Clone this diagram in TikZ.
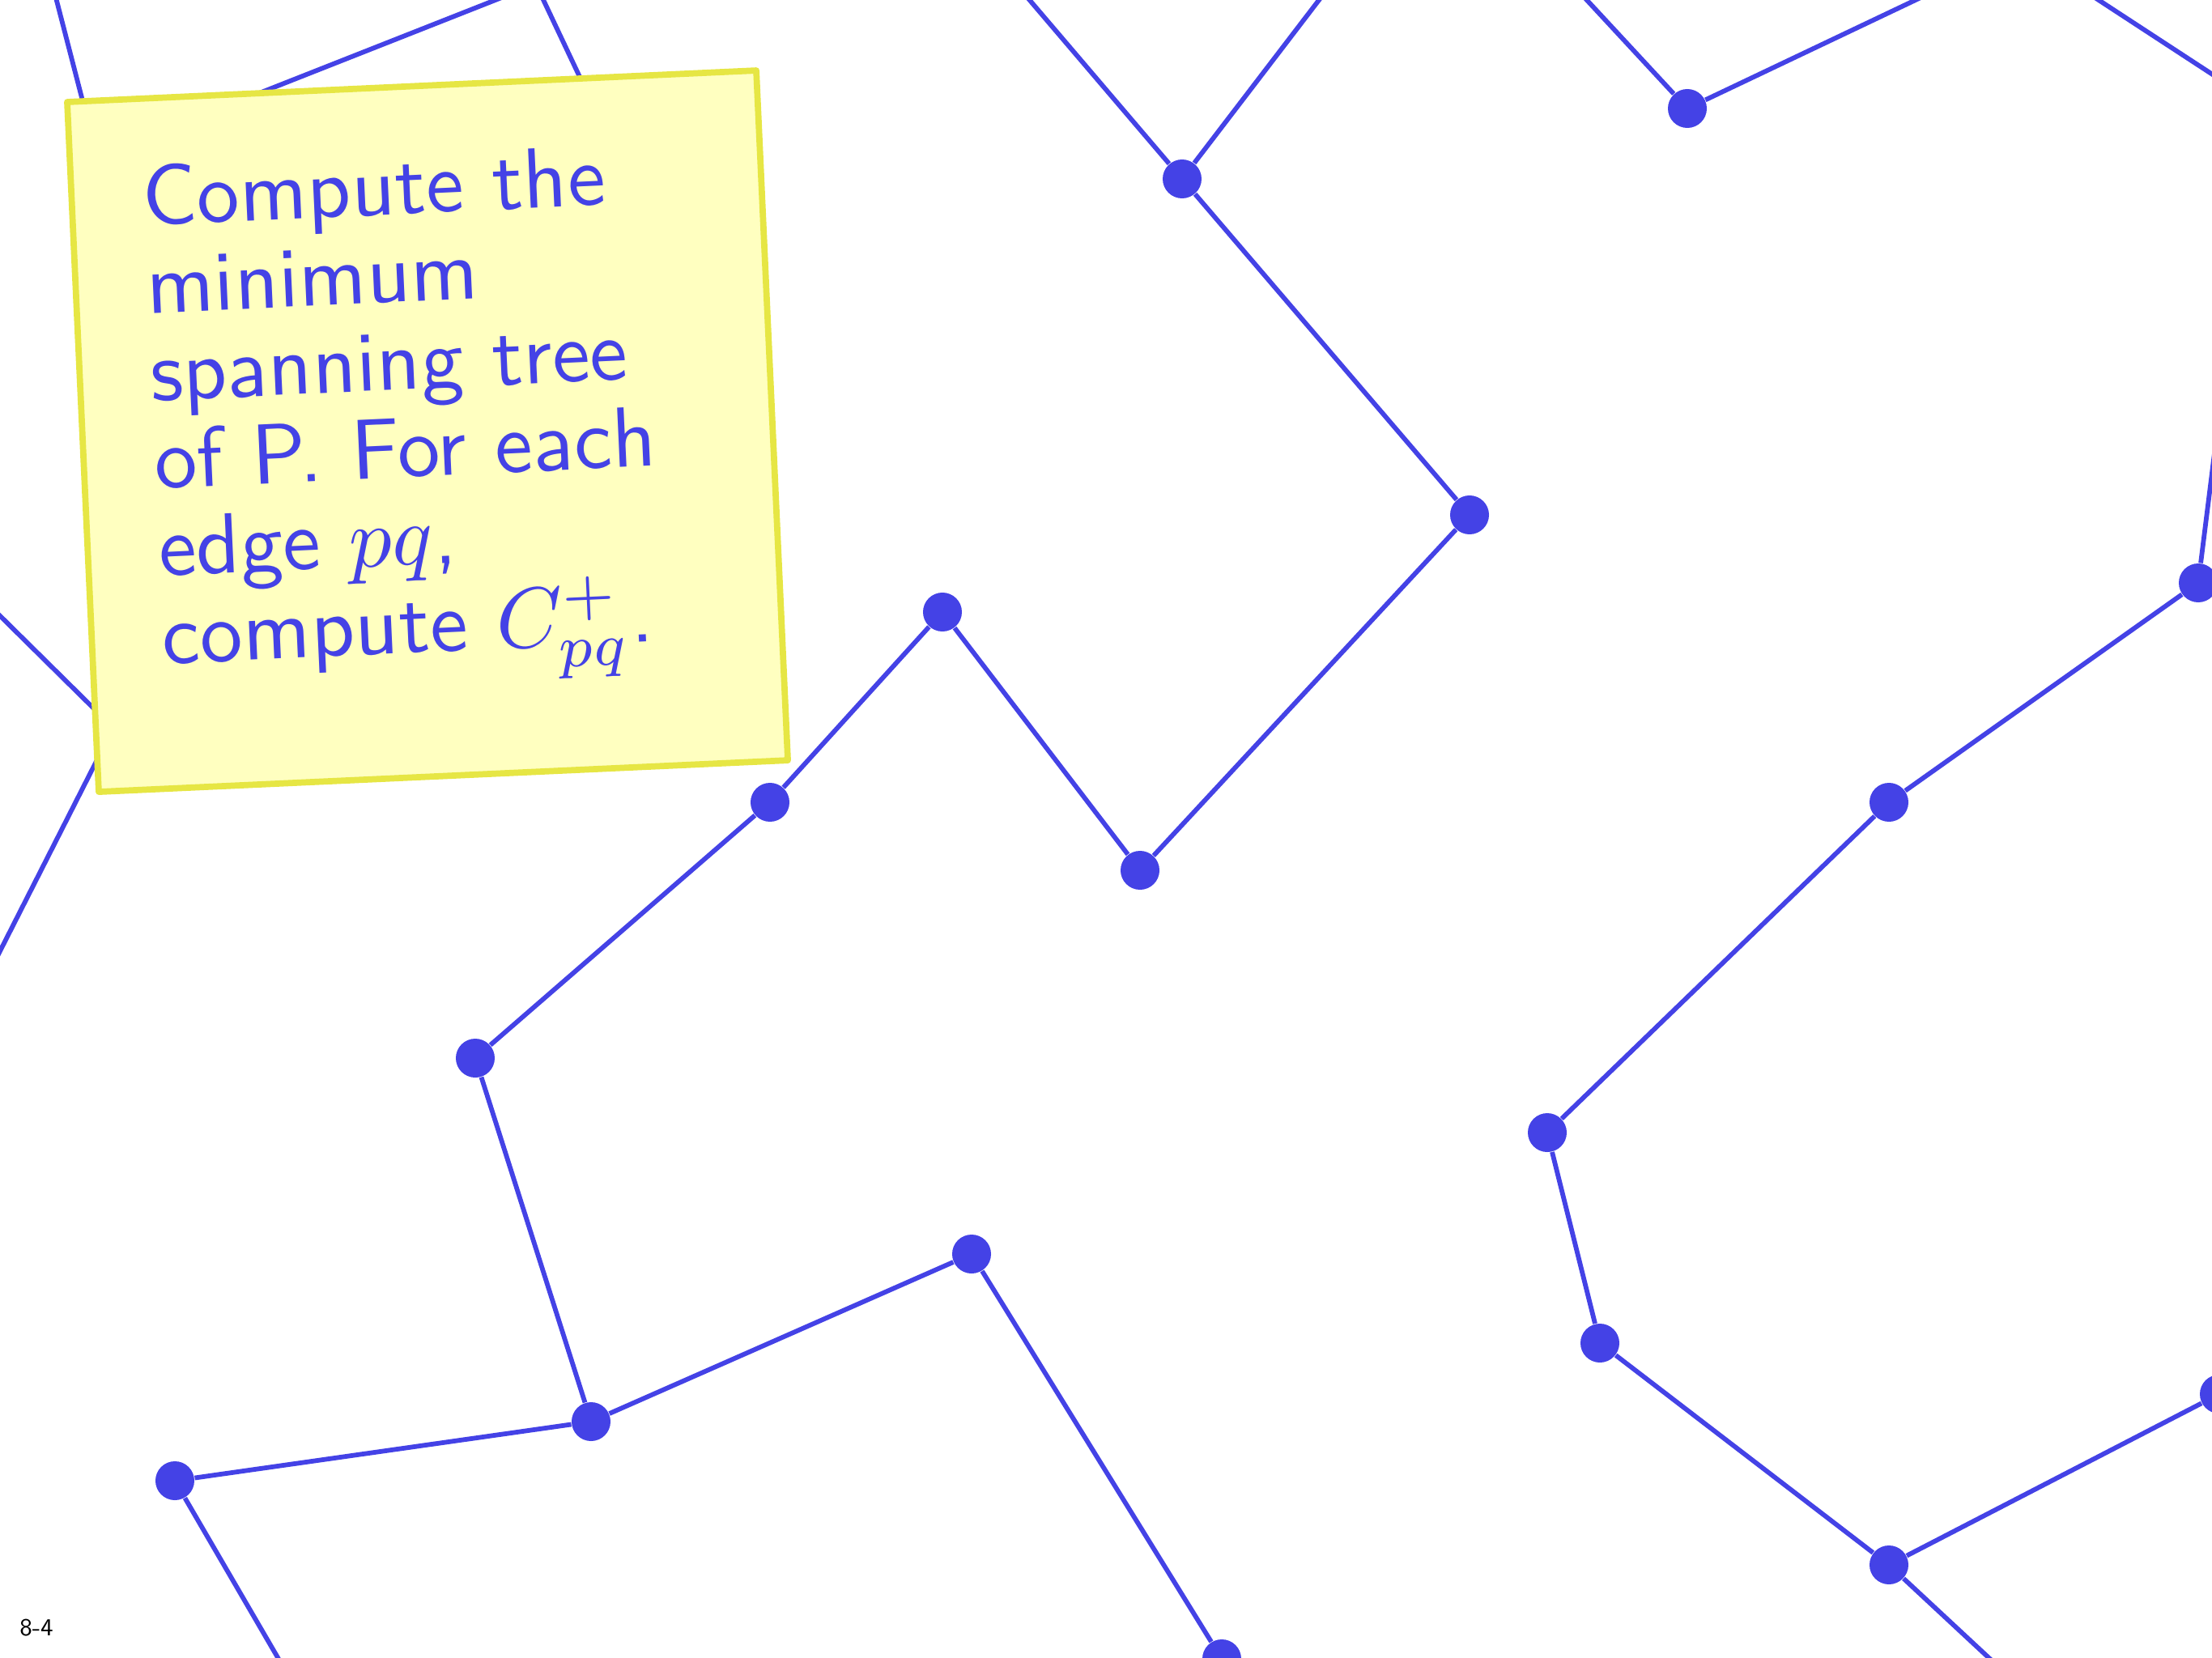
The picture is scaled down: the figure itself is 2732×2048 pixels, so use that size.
\documentclass[tikz,border=0pt]{standalone}
\definecolor{dotblue}{RGB}{68,66,230}
\definecolor{notefill}{RGB}{255,255,192}
\definecolor{noteedge}{RGB}{230,230,68}
\begin{document}
\begin{tikzpicture}[x=0.01cm,y=-0.01cm,
  edge/.style={draw=dotblue,line width=1.65pt},
  dot/.style={circle,fill=dotblue,inner sep=0pt,minimum size=0.48cm},
  notebox/.style={draw=noteedge,fill=notefill,line width=2.2pt,line join=round},
  notetext/.style={text=dotblue,font=\fontsize{10}{12}\selectfont\sffamily,anchor=base west,inner sep=0pt,scale=3}]
\useasboundingbox (0,0) rectangle (2732,2048);
\clip (0,0) rectangle (2732,2048);
% points
\node[dot] (n1) at (1460,221) {};
\node[dot] (n2) at (2084,134) {};
\node[dot] (n3) at (1815,636) {};
\node[dot] (n4) at (1164,756) {};
\node[dot] (n5) at (1408,1075) {};
\node[dot] (n6) at (951,991) {};
\node[dot] (n7) at (587,1307) {};
\node[dot] (n8) at (730,1756) {};
\node[dot] (n9) at (1200,1549) {};
\node[dot] (n10) at (216,1829) {};
\node[dot] (n11) at (1509,2049) {};
\node[dot] (n12) at (2715,720) {};
\node[dot] (n13) at (2333,991) {};
\node[dot] (n14) at (1911,1399) {};
\node[dot] (n15) at (1976,1659) {};
\node[dot] (n16) at (2333,1933) {};
\node[dot] (n17) at (2741,1722) {};
% free ends
\coordinate (e1) at (1246,-30);
\coordinate (e2) at (1652,-30);
\coordinate (e3) at (1932,-30);
\coordinate (e4) at (2429,-30);
\coordinate (e5a) at (2546,-30);
\coordinate (e5b) at (2800,136);
\coordinate (e6) at (2745,480);
\coordinate (e7) at (2491,2080);
\coordinate (e8) at (362,2080);
\coordinate (h1) at (120,194);
\coordinate (h2) at (140,899);
\coordinate (h3) at (860,400);
\coordinate (e9) at (62,-30);
\coordinate (e10) at (688,-30);
\coordinate (e11) at (657,-30);
\coordinate (e12) at (-30,731);
\coordinate (e13) at (-30,1234);
% edges
\draw[edge] (n1) -- (e1);
\draw[edge] (n1) -- (e2);
\draw[edge] (n1) -- (n3);
\draw[edge] (n3) -- (n5);
\draw[edge] (n5) -- (n4);
\draw[edge] (n4) -- (n6);
\draw[edge] (n6) -- (n7);
\draw[edge] (n7) -- (n8);
\draw[edge] (n8) -- (n9);
\draw[edge] (n8) -- (n10);
\draw[edge] (n10) -- (e8);
\draw[edge] (n9) -- (n11);
\draw[edge] (n2) -- (e3);
\draw[edge] (n2) -- (e4);
\draw[edge] (e5a) -- (e5b);
\draw[edge] (n12) -- (e6);
\draw[edge] (n12) -- (n13);
\draw[edge] (n13) -- (n14);
\draw[edge] (n14) -- (n15);
\draw[edge] (n15) -- (n16);
\draw[edge] (n16) -- (n17);
\draw[edge] (n16) -- (e7);
\draw[edge] (h1) -- (e9);
\draw[edge] (h1) -- (e10);
\draw[edge] (h3) -- (e11);
\draw[edge] (h2) -- (e12);
\draw[edge] (h2) -- (e13);
% note
\begin{scope}[shift={(83,126)},rotate=2.62,transform shape]
  \draw[notebox] (0,0) rectangle (852,853);
  \node[notetext] (l1) at (85,157) {Compute the};
  \node[notetext] (l2) at (85,265.4) {minimum};
  \node[notetext] (l3) at (85,373.8) {spanning tree};
  \node[notetext] (l4) at (85,482.2) {of P. For each};
  \node[notetext] (l5) at (85,590.6) {edge $pq$,};
  \node[notetext] (l6) at (85,699) {compute $C^+_{pq}$.};
\end{scope}
\node[font=\fontsize{8.6}{10}\selectfont\sffamily,text=black,inner sep=0pt] (pagenum) at (45,2011) {8-4};
\end{tikzpicture}
\end{document}
